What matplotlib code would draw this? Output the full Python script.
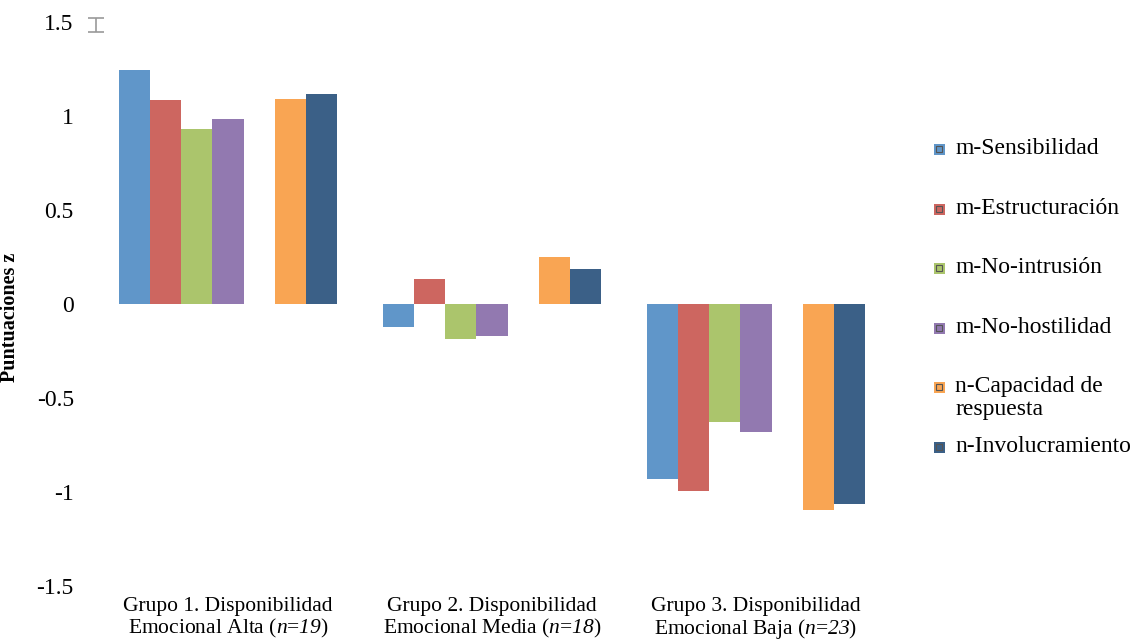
import matplotlib
matplotlib.use("Agg")
import matplotlib.pyplot as plt
from matplotlib.patches import Rectangle
import numpy as np

plt.rcParams["font.family"] = ["Liberation Serif", "DejaVu Serif"]
plt.rcParams["mathtext.fontset"] = "custom"
plt.rcParams["mathtext.rm"] = "Liberation Serif"
# sf slot used for italic digits (the 'it' slot forces digits upright)
plt.rcParams["mathtext.sf"] = "Liberation Serif:italic"

# data
groups = [
    "Grupo 1. Disponibilidad\nEmocional Alta ($\\mathsf{n}$=$\\mathsf{19}$)",
    "Grupo 2. Disponibilidad\nEmocional Media ($\\mathsf{n}$=$\\mathsf{18}$)",
    "Grupo 3. Disponibilidad\nEmocional Baja ($\\mathsf{n}$=$\\mathsf{23}$)",
]
series_names = ["m-Sensibilidad", "m-Estructuración", "m-No-intrusión",
                "m-No-hostilidad", "n-Capacidad de\nrespuesta", "n-Involucramiento"]
sensibilidad = [1.245, -0.124, -0.931]
estructuracion = [1.085, 0.134, -0.993]
no_intrusion = [0.931, -0.186, -0.626]
no_hostilidad = [0.984, -0.168, -0.681]
capacidad = [1.092, 0.249, -1.096]
involucramiento = [1.115, 0.188, -1.065]
values = [sensibilidad, estructuracion, no_intrusion, no_hostilidad,
          capacidad, involucramiento]
# slot of each series inside a group (slot 4 is an empty gap)
slots = [0, 1, 2, 3, 5, 6]
colors = ["#6096C9", "#CD6660", "#ABC56C", "#9279B0", "#F9A553", "#3B6087"]
yticks = [-1.5, -1, -0.5, 0, 0.5, 1, 1.5]
ytick_labels = ["-1.5", "-1", "-0.5", "0", "0.5", "1", "1.5"]

W, H = 1138, 642
fig = plt.figure(figsize=(W / 100, H / 100), dpi=100)
ax = fig.add_axes([96 / W, 1 - 586 / H, (888 - 96) / W, (586 - 22) / H])

x = np.arange(len(groups))
n_slots = 7
bw = 218 / 264 / n_slots
for vals, s, c in zip(values, slots, colors):
    ax.bar(x - 218 / 264 / 2 + bw * (s + 0.5), vals, width=bw, color=c,
           edgecolor="none")

# small grey error-bar glyph near the top left
ax.errorbar([-0.5], [1.484], yerr=[0.037], color="#999999", capsize=6,
            elinewidth=1.2, capthick=1.2, clip_on=False)

ax.set_xlim(-0.5, 2.5)
ax.set_ylim(-1.5, 1.5)
ax.set_yticks(yticks)
ax.set_yticklabels(ytick_labels, fontsize=17)
ax.set_xticks(x)
ax.set_xticklabels(groups, fontsize=15.5, linespacing=1.05)
ax.tick_params(axis="both", length=0)
ax.tick_params(axis="y", pad=16)
ax.tick_params(axis="x", pad=8)
for sp in ax.spines.values():
    sp.set_visible(False)
ax.set_ylabel("Puntuaciones z", fontsize=14.5, fontweight="bold", labelpad=14)
ax.yaxis.set_label_coords(-76 / (888 - 96), (586 - 317) / (586 - 22))

# legend drawn by hand, Excel style
y0 = 150
step = 59.6
for i, (lab, c) in enumerate(zip(series_names, colors)):
    yc = y0 + i * step
    fig.add_artist(Rectangle(((934) / W, 1 - (yc + 5) / H), 11 / W, 11 / H,
                             transform=fig.transFigure, facecolor=c,
                             edgecolor="none"))
    fig.add_artist(Rectangle(((936) / W, 1 - (yc + 2) / H), 6 / W, 6 / H,
                             transform=fig.transFigure, facecolor="none",
                             edgecolor="#555555", linewidth=0.8))
    fig.text(955 / W, 1 - (yc - 12) / H, lab, fontsize=17, va="top",
             ha="left", linespacing=1.12)

fig.savefig("out.png", dpi=100)
